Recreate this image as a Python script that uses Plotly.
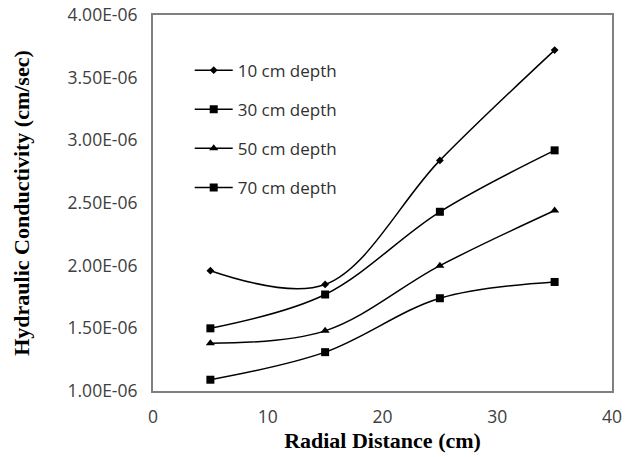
import plotly.graph_objects as go

x_vals = [5, 15, 25, 35]
depth_10 = [1.96e-6, 1.85e-6, 2.84e-6, 3.72e-6]
depth_30 = [1.50e-6, 1.77e-6, 2.43e-6, 2.92e-6]
depth_50 = [1.38e-6, 1.48e-6, 2.00e-6, 2.44e-6]
depth_70 = [1.09e-6, 1.31e-6, 1.74e-6, 1.87e-6]
series_names = ["10 cm depth", "30 cm depth", "50 cm depth", "70 cm depth"]
symbols = ["diamond", "square", "triangle-up", "square"]
sizes = [6, 8, 8, 8]

y_tickvals = [1.0e-6, 1.5e-6, 2.0e-6, 2.5e-6, 3.0e-6, 3.5e-6, 4.0e-6]
y_ticktext = ["1.00E-06", "1.50E-06", "2.00E-06", "2.50E-06", "3.00E-06", "3.50E-06", "4.00E-06"]
x_tickvals = [0, 10, 20, 30, 40]

fig = go.Figure()
for i, ys in enumerate([depth_10, depth_30, depth_50, depth_70]):
    fig.add_trace(go.Scatter(
        x=x_vals, y=ys, name=series_names[i], mode="lines+markers",
        line=dict(color="black", width=1.5, shape="spline", smoothing=1.0),
        marker=dict(symbol=symbols[i], size=sizes[i], color="black"),
        legendgroup=f"g{i}",
    ))

fig.update_layout(
    width=626, height=457,
    margin=dict(l=153, r=14, t=15, b=66, autoexpand=False),
    paper_bgcolor="white", plot_bgcolor="white",
    font=dict(family="Open Sans, Liberation Sans, sans-serif", color="#404040", size=17.5),
    legend=dict(x=0.08, y=0.90, xanchor="left", yanchor="top",
                bgcolor="rgba(0,0,0,0)", tracegroupgap=14, itemwidth=38,
                font=dict(size=17, color="#303030")),
    showlegend=True,
)
fig.update_xaxes(
    range=[0, 40], tickvals=x_tickvals, ticks="outside", ticklen=9,
    tickcolor="rgba(0,0,0,0)", showgrid=False, zeroline=False,
    showline=True, linecolor="#808080", linewidth=2, mirror=True,
    ticklabeloverflow="allow",
    title=dict(text="<b>Radial Distance (cm)</b>",
               font=dict(family="Liberation Serif, Times New Roman, serif", size=22, color="black"),
               standoff=5),
    tickfont=dict(size=17.5),
)
fig.update_yaxes(
    range=[1.0e-6, 4.0e-6], tickvals=y_tickvals, ticktext=y_ticktext,
    ticks="outside", ticklen=10, tickcolor="rgba(0,0,0,0)",
    showgrid=False, zeroline=False, ticklabeloverflow="allow",
    showline=True, linecolor="#808080", linewidth=2, mirror=True,
    title=dict(text="<b>Hydraulic Conductivity (cm/sec)</b>",
               font=dict(family="Liberation Serif, Times New Roman, serif", size=22, color="black"),
               standoff=32),
    tickfont=dict(size=17.5),
)

fig.write_html("out.html", config={"displayModeBar": False},
               post_script="document.body.style.margin='0';document.body.style.overflow='hidden';")
